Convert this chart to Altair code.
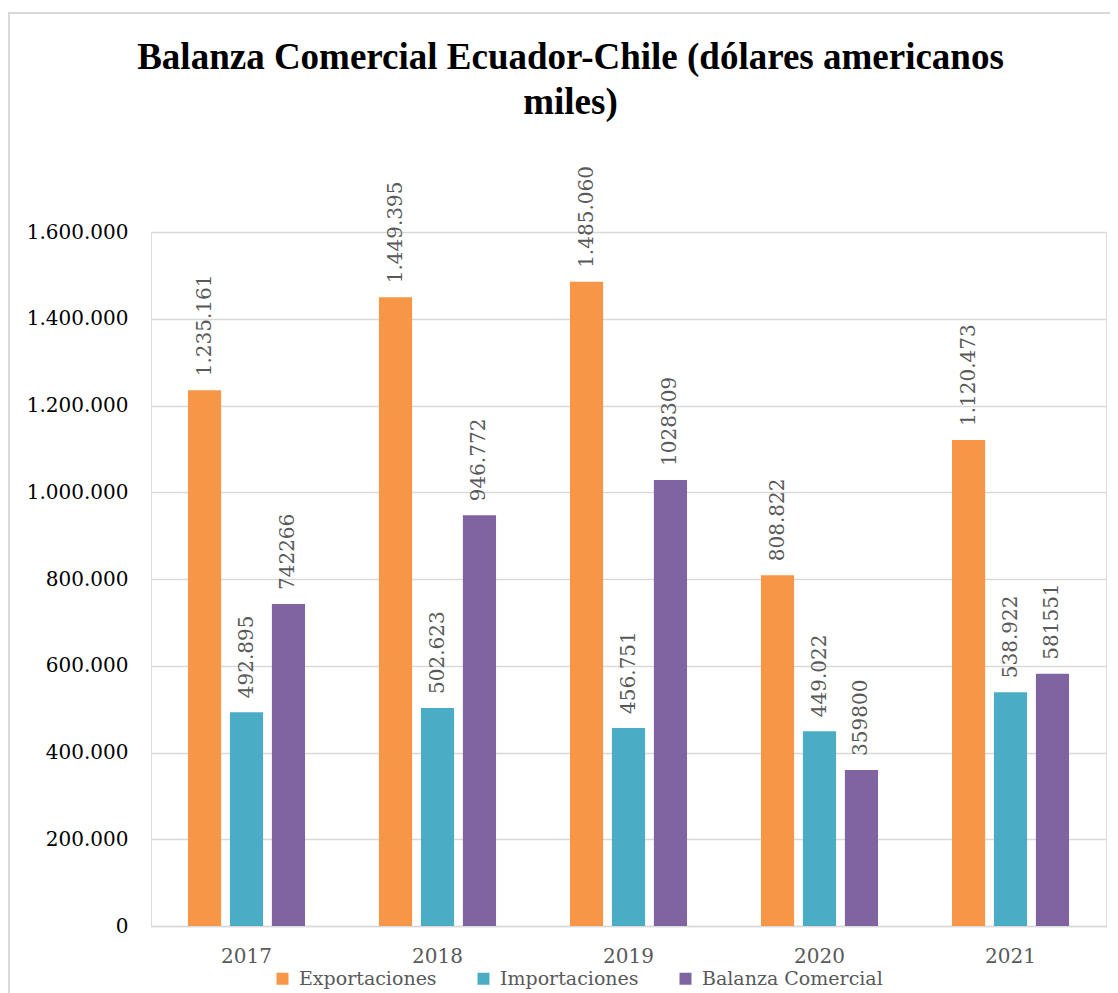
import altair as alt
import pandas as pd

years = ["2017", "2018", "2019", "2020", "2021"]
series = ["Exportaciones", "Importaciones", "Balanza Comercial"]
exportaciones = [1235161, 1449395, 1485060, 808822, 1120473]
importaciones = [492895, 502623, 456751, 449022, 538922]
balanza = [742266, 946772, 1028309, 359800, 581551]
lbl_exp = ["1.235.161", "1.449.395", "1.485.060", "808.822", "1.120.473"]
lbl_imp = ["492.895", "502.623", "456.751", "449.022", "538.922"]
lbl_bal = ["742266", "946.772", "1028309", "359800", "581551"]
colors = ["#F79646", "#4BACC6", "#8064A2"]
title_lines = ["Balanza Comercial Ecuador-Chile (dólares americanos", "miles)"]

rows = []
for s, vals, lbls in zip(series, [exportaciones, importaciones, balanza], [lbl_exp, lbl_imp, lbl_bal]):
    for y, v, l in zip(years, vals, lbls):
        rows.append({"Año": y, "Serie": s, "Valor": v, "Etiqueta": l})
df = pd.DataFrame(rows)

SERIF = "DejaVu Serif"

x = alt.X("Año:N", sort=years,
          scale=alt.Scale(paddingInner=0.387, paddingOuter=0.1935),
          axis=alt.Axis(title=None, labelAngle=0, labelFont=SERIF, labelFontSize=20,
                        labelColor="#595959", labelPadding=20, ticks=False,
                        domain=True, domainColor="#D9D9D9", domainWidth=1.5, grid=False))
xoff = alt.XOffset("Serie:N", sort=series, scale=alt.Scale(paddingInner=0.21, paddingOuter=0))
y = alt.Y("Valor:Q", scale=alt.Scale(domain=[0, 1600000], nice=False),
          axis=alt.Axis(title=None, values=list(range(0, 1600001, 200000)),
                        labelExpr="replace(format(datum.value, ','), /,/g, '.')",
                        labelFont=SERIF, labelFontSize=20, labelColor="#000000",
                        labelPadding=23, ticks=False, domain=False,
                        gridColor="#D9D9D9", gridWidth=1.5))
color = alt.Color("Serie:N", sort=series,
                  scale=alt.Scale(domain=series, range=colors),
                  legend=alt.Legend(title=None, orient="none", direction="horizontal",
                                    legendX=122, legendY=737, padding=0,
                                    symbolType="square", symbolSize=144,
                                    symbolStrokeWidth=0, labelFont=SERIF,
                                    labelFontSize=19, labelColor="#595959",
                                    labelOffset=7, columnPadding=37, labelLimit=400))

bars = alt.Chart(df).mark_bar().encode(x=x, xOffset=xoff, y=y, color=color)
labels = alt.Chart(df).mark_text(angle=270, align="left", baseline="middle", dx=14,
                                 font=SERIF, fontSize=20, color="#595959").encode(
    x=alt.X("Año:N", sort=years), xOffset=alt.XOffset("Serie:N", sort=series),
    y="Valor:Q", text="Etiqueta:N")

frame = alt.Chart(pd.DataFrame({"k": [0]})).mark_rect(
    fill=None, fillOpacity=0, stroke="#D9D9D9", strokeWidth=2).encode(
    x=alt.value(-142), x2=alt.value(1100), y=alt.value(-219), y2=alt.value(900))

chart = alt.layer(frame, bars, labels).properties(
    width=955, height=694,
    padding={"left": 143, "top": 224, "right": 4, "bottom": 70},
    autosize=alt.AutoSizeParams(type="none"),
    title=alt.TitleParams(text=title_lines, font="Liberation Serif", fontSize=37,
                          fontWeight="bold", color="#000000", anchor="middle",
                          frame="group", dx=-58, offset=-139, lineHeight=45,
                          baseline="alphabetic"),
).configure_view(stroke=None).configure(background="white")

chart.save("out.html", embed_options={"renderer": "svg", "actions": False})
